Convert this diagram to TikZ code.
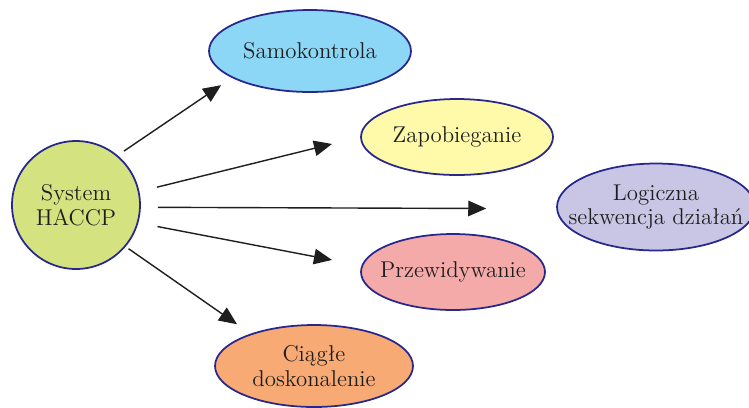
\documentclass[tikz,border=0pt]{standalone}
\usepackage{tikz}
\usetikzlibrary{shapes.geometric,arrows.meta,positioning}
\definecolor{rimblue}{RGB}{40,40,140}
\definecolor{hubgreen}{RGB}{212,226,128}
\definecolor{skyblue}{RGB}{141,215,246}
\definecolor{paleyellow}{RGB}{255,250,170}
\definecolor{lavender}{RGB}{200,198,228}
\definecolor{rosepink}{RGB}{245,170,170}
\definecolor{apricot}{RGB}{247,170,115}
\definecolor{txtgray}{RGB}{30,30,30}
\tikzset
{
    hub/.style   = {circle, draw=rimblue, line width=1pt, minimum size=2.56cm, inner sep=0pt, align=center, text=txtgray},
    oval/.style  = {ellipse, draw=rimblue, line width=1pt, inner sep=0pt},
    ovaltxt/.style = {align=center, text=txtgray, inner sep=0pt},
    arrow/.style = {draw=txtgray, line width=0.8pt, -{Triangle[length=0.36cm, width=0.31cm]}}
}

\begin{document}
\begin{tikzpicture}[x=0.02cm, y=-0.02cm, font=\fontsize{13}{14.2}\selectfont]
		\useasboundingbox (0,0) rectangle (749,407);
		\node (haccp)	[hub, fill=hubgreen]																at (76,205)		{System \\ HACCP};
		\node (samo)	[oval, fill=skyblue, minimum width=4.04cm, minimum height=1.64cm,
		               label={[ovaltxt]center:Samokontrola}]							at (310,51)		{};
		\node (zapob)	[oval, fill=paleyellow, minimum width=3.84cm, minimum height=1.52cm,
		               label={[ovaltxt]center:Zapobieganie}]							at (457,137)	{};
		\node (logic)	[oval, fill=lavender, minimum width=3.96cm, minimum height=1.74cm,
		               label={[ovaltxt]center:Logiczna \\ sekwencja działań}]			at (656,207)	{};
		\node (przew)	[oval, fill=rosepink, minimum width=3.68cm, minimum height=1.52cm,
		               label={[ovaltxt]center:Przewidywanie}]							at (453,272)	{};
		\node (ciagle)	[oval, fill=apricot, minimum width=3.96cm, minimum height=1.64cm,
		               label={[ovaltxt]center:Ciągłe \\ doskonalenie}]					at (314,366)	{};

		\draw[arrow, shorten <=0.15cm, shorten >=0.26cm] (haccp.50)  -- (samo.199.5);
		\draw[arrow, shorten <=0.36cm, shorten >=0.58cm] (haccp.12.7) -- (zapob.180.8);
		\draw[arrow, shorten <=0.34cm, shorten >=1.4cm]  (haccp.-2.8) -- (logic.181.2);
		\draw[arrow, shorten <=0.39cm, shorten >=0.6cm]  (haccp.-16.7) -- (przew.176.4);
		\draw[arrow, shorten <=0.07cm, shorten >=0.33cm] (haccp.-40.8) -- (ciagle.153);
	\end{tikzpicture}
\end{document}
